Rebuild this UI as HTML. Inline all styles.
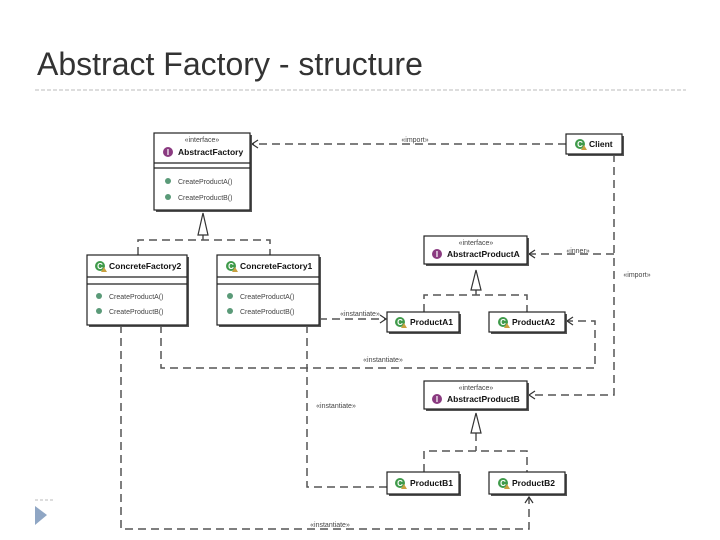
<!DOCTYPE html>
<html><head><meta charset="utf-8"><style>
body{margin:0;background:#fff;}
svg{display:block;font-family:"Liberation Sans",sans-serif;}
</style></head><body>
<svg width="720" height="540" viewBox="0 0 720 540" xmlns="http://www.w3.org/2000/svg">
<defs>
<g id="ci"><circle cx="0" cy="0" r="5" fill="#3f9a4a"/><text x="0" y="3" font-size="8" font-weight="bold" fill="#fff" text-anchor="middle">C</text><path d="M1 6 L4 1 L7 6Z" fill="#c8a040"/></g>
<g id="ii"><circle cx="0" cy="0" r="5" fill="#8a3a80"/><text x="0" y="3" font-size="8" font-weight="bold" fill="#fff" text-anchor="middle">I</text></g>
</defs>
<text x="37" y="75" font-size="32" fill="#333">Abstract Factory - structure</text>
<line x1="35" y1="90" x2="686" y2="90" stroke="#bbb" stroke-dasharray="4,2"/>
<line x1="35" y1="500" x2="55" y2="500" stroke="#bbb" stroke-dasharray="3,2"/>
<path d="M35 506 L47 515 L35 525Z" fill="#8fa6c4"/>

<g fill="none" stroke="#555" stroke-width="1.5" stroke-dasharray="8,5">
<path d="M566 144 H252"/>
<path d="M614 154 V395 H529"/>
<path d="M614 254 H529"/>
<path d="M203 235 V240 M138 255 V240 H270 V255"/>
<path d="M476 290 V295 M424 312 V295 H527 V312"/>
<path d="M476 433 V451 M424 472 V451 H527 V472"/>
<path d="M319 319 H385"/>
<path d="M161 325 V368 H595 V321 H567"/>
<path d="M307 325 V487 H387"/>
<path d="M121 325 V529 H529 V497"/>
</g>
<g fill="none" stroke="#333" stroke-width="1.2">
<path d="M258 140 L252 144 L258 148"/>
<path d="M535 250 L529 254 L535 258"/>
<path d="M535 391 L529 395 L535 399"/>
<path d="M573 317 L567 321 L573 325"/>
<path d="M380 315 L386 319 L380 323"/>
<path d="M525 503 L529 497 L533 503"/>
<path d="M203 213 L198 235 L208 235Z" fill="#fff"/>
<path d="M476 270 L471 290 L481 290Z" fill="#fff"/>
<path d="M476 413 L471 433 L481 433Z" fill="#fff"/>
</g>
<g font-size="7" fill="#444" text-anchor="middle">
<text x="415" y="142">«import»</text>
<text x="578" y="253">«inner»</text>
<text x="637" y="277">«import»</text>
<text x="360" y="316">«instantiate»</text>
<text x="383" y="362">«instantiate»</text>
<text x="336" y="408">«instantiate»</text>
<text x="330" y="527">«instantiate»</text>
</g>

<g stroke="#222" stroke-width="1.2" fill="#fff">
<rect x="156" y="135" width="96" height="77" fill="#555" stroke="none"/>
<rect x="154" y="133" width="96" height="77"/>
<line x1="154" y1="163" x2="250" y2="163"/><line x1="154" y1="168" x2="250" y2="168"/>
<rect x="89" y="257" width="100" height="70" fill="#555" stroke="none"/>
<rect x="87" y="255" width="100" height="70"/>
<line x1="87" y1="277" x2="187" y2="277"/><line x1="87" y1="284" x2="187" y2="284"/>
<rect x="219" y="257" width="102" height="70" fill="#555" stroke="none"/>
<rect x="217" y="255" width="102" height="70"/>
<line x1="217" y1="277" x2="319" y2="277"/><line x1="217" y1="284" x2="319" y2="284"/>
<rect x="568" y="136" width="56" height="20" fill="#555" stroke="none"/>
<rect x="566" y="134" width="56" height="20"/>
<rect x="426" y="238" width="103" height="28" fill="#555" stroke="none"/>
<rect x="424" y="236" width="103" height="28"/>
<rect x="426" y="383" width="103" height="28" fill="#555" stroke="none"/>
<rect x="424" y="381" width="103" height="28"/>
<rect x="389" y="314" width="72" height="20" fill="#555" stroke="none"/>
<rect x="387" y="312" width="72" height="20"/>
<rect x="491" y="314" width="76" height="20" fill="#555" stroke="none"/>
<rect x="489" y="312" width="76" height="20"/>
<rect x="389" y="474" width="72" height="22" fill="#555" stroke="none"/>
<rect x="387" y="472" width="72" height="22"/>
<rect x="491" y="474" width="76" height="22" fill="#555" stroke="none"/>
<rect x="489" y="472" width="76" height="22"/>
</g>

<g font-size="7" fill="#444" text-anchor="middle">
<text x="202" y="142">«interface»</text>
<text x="476" y="245">«interface»</text>
<text x="476" y="390">«interface»</text>
</g>
<g font-size="8.5" font-weight="bold" fill="#111">
<use href="#ii" x="168" y="152"/><text x="178" y="155">AbstractFactory</text>
<use href="#ci" x="100" y="266"/><text x="109" y="269">ConcreteFactory2</text>
<use href="#ci" x="231" y="266"/><text x="240" y="269">ConcreteFactory1</text>
<use href="#ci" x="580" y="144"/><text x="589" y="147">Client</text>
<use href="#ii" x="437" y="254"/><text x="447" y="257">AbstractProductA</text>
<use href="#ii" x="437" y="399"/><text x="447" y="402">AbstractProductB</text>
<use href="#ci" x="400" y="322"/><text x="410" y="325">ProductA1</text>
<use href="#ci" x="503" y="322"/><text x="512" y="325">ProductA2</text>
<use href="#ci" x="400" y="483"/><text x="410" y="486">ProductB1</text>
<use href="#ci" x="503" y="483"/><text x="512" y="486">ProductB2</text>
</g>
<g font-size="7" fill="#444">
<circle cx="168" cy="181" r="3" fill="#5a9a78"/><text x="178" y="184">CreateProductA()</text>
<circle cx="168" cy="197" r="3" fill="#5a9a78"/><text x="178" y="200">CreateProductB()</text>
<circle cx="99" cy="296" r="3" fill="#5a9a78"/><text x="109" y="299">CreateProductA()</text>
<circle cx="99" cy="311" r="3" fill="#5a9a78"/><text x="109" y="314">CreateProductB()</text>
<circle cx="230" cy="296" r="3" fill="#5a9a78"/><text x="240" y="299">CreateProductA()</text>
<circle cx="230" cy="311" r="3" fill="#5a9a78"/><text x="240" y="314">CreateProductB()</text>
</g>
</svg>
</body></html>
